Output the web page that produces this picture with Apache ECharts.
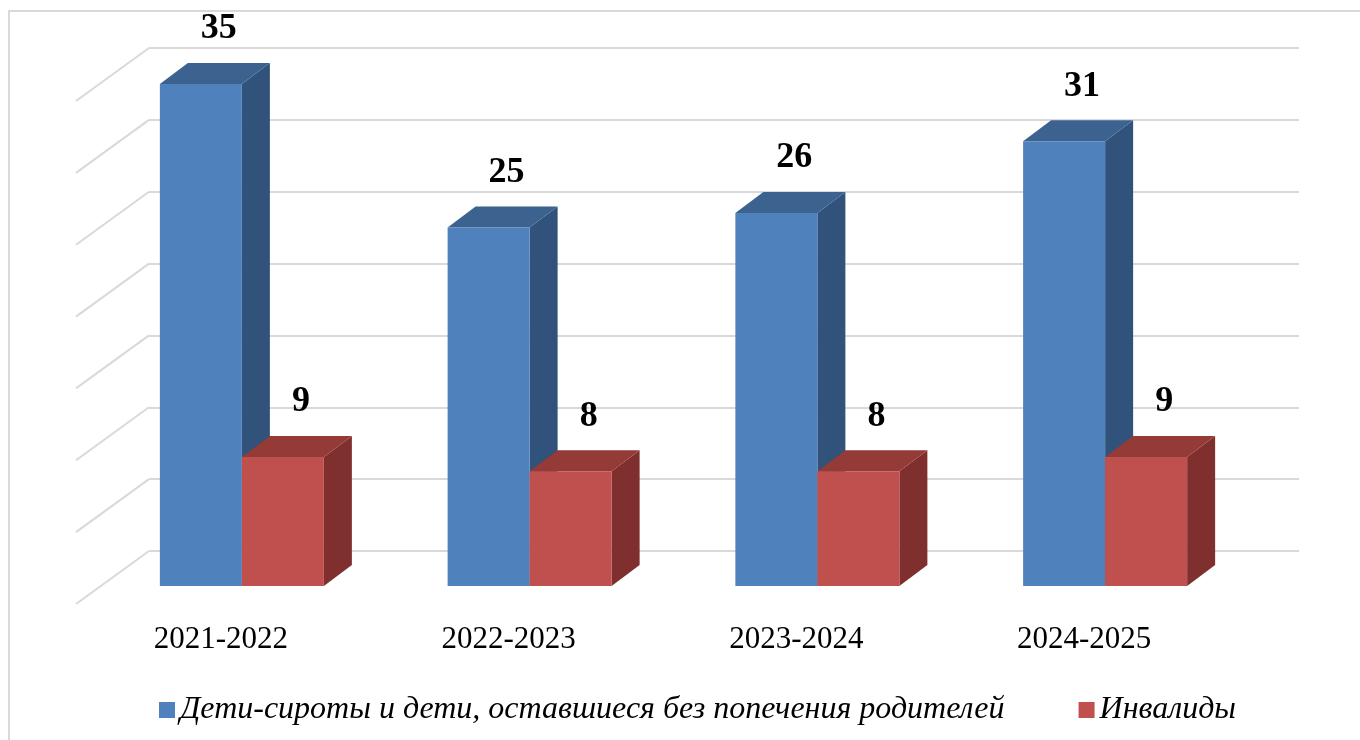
<!DOCTYPE html>
<html>
<head>
<meta charset="utf-8">
<script src="https://cdn.jsdelivr.net/npm/echarts@6/dist/echarts.min.js"></script>
<style>
    html, body { margin: 0; padding: 0; background: #fff; }
    #chart { width: 1360px; height: 740px; }
</style>
</head>
<body>
<div id="chart"></div>
<script>
var categories = ['2021-2022', '2022-2023', '2023-2024', '2024-2025'];
var orphans = [35, 25, 26, 31];
var disabled = [9, 8, 8, 9];
var gridTicks = [0, 5, 10, 15, 20, 25, 30, 35];

var seriesNames = ['Дети-сироты и дети, оставшиеся без попечения родителей', 'Инвалиды'];

var DX = 28, DY = 21; // bar depth

function barRenderer(side, front, topColor, sideColor) {
    return function(params, api) {
        var cat = api.value(0);
        var val = api.value(1);
        var base = api.coord([cat, 0]);
        var top = api.coord([cat, val]);
        var bw = api.size([1, 0])[0] * 0.285;
        var x0 = side === 0 ? base[0] - bw : base[0];
        var x1 = x0 + bw;
        var yt = top[1], yb = base[1];
        return {
            type: 'group',
            children: [
                {
                    type: 'polygon',
                    shape: { points: [[x1, yt], [x1 + DX, yt - DY], [x1 + DX, yb - DY], [x1, yb]] },
                    style: { fill: sideColor }
                },
                {
                    type: 'polygon',
                    shape: { points: [[x0, yt], [x0 + DX, yt - DY], [x1 + DX, yt - DY], [x1, yt]] },
                    style: { fill: topColor }
                },
                {
                    type: 'rect',
                    shape: { x: x0, y: yt, width: bw, height: yb - yt },
                    style: { fill: front }
                },
                {
                    type: 'text',
                    style: {
                        text: String(val),
                        x: x0 + bw / 2 + 18,
                        y: yt - 55,
                        align: 'center',
                        verticalAlign: 'middle',
                        fontFamily: 'Liberation Serif',
                        fontWeight: 'bold',
                        fontSize: 36,
                        fill: '#000'
                    }
                }
            ]
        };
    };
}

var chart = echarts.init(document.getElementById('chart'));

var option = {
    animation: false,
    backgroundColor: '#fff',
    graphic: [
        {
            type: 'polyline',
            shape: { points: [[9, 745], [9, 11], [1365, 11]] },
            style: { stroke: '#d9d9d9', lineWidth: 2, fill: null },
            silent: true
        }
    ],
    legend: {
        left: 154,
        top: 689,
        icon: 'rect',
        itemWidth: 16,
        itemHeight: 16,
        itemGap: 74,
        textStyle: {
            fontFamily: 'Liberation Serif',
            fontStyle: 'italic',
            fontSize: 32,
            color: '#000'
        },
        data: seriesNames
    },
    grid: [
        // front plane of the bars
        { left: 98, right: 111, top: 84, bottom: 154 },
        // back wall
        { left: 149, right: 61, top: 48, bottom: 189 }
    ],
    xAxis: [
        {
            gridIndex: 0,
            type: 'category',
            data: categories,
            axisLine: { show: false },
            axisTick: { show: false },
            axisLabel: {
                margin: 38,
                padding: [0, 42, 0, 0],
                fontFamily: 'Liberation Serif',
                fontSize: 31,
                color: '#000'
            }
        },
        {
            gridIndex: 1,
            type: 'value',
            min: 0,
            max: 1,
            show: false
        }
    ],
    yAxis: [
        {
            gridIndex: 0,
            type: 'value',
            min: 0,
            max: 35,
            show: false
        },
        {
            gridIndex: 1,
            type: 'value',
            min: 0,
            max: 35,
            interval: 5,
            axisLine: { show: false },
            axisTick: { show: false },
            axisLabel: { show: false },
            splitLine: {
                lineStyle: { color: '#d9d9d9', width: 2 }
            }
        }
    ],
    series: [
        {
            // side wall lines
            type: 'custom',
            xAxisIndex: 1,
            yAxisIndex: 1,
            silent: true,
            z: 1,
            data: gridTicks.map(function(v) { return [0, v]; }),
            renderItem: function(params, api) {
                var p = api.coord([0, api.value(1)]);
                return {
                    type: 'line',
                    shape: { x1: p[0], y1: p[1], x2: p[0] - 73, y2: p[1] + 53 },
                    style: { stroke: '#d9d9d9', lineWidth: 2 }
                };
            }
        },
        {
            name: seriesNames[0],
            type: 'custom',
            xAxisIndex: 0,
            yAxisIndex: 0,
            itemStyle: { color: '#4f81bd' },
            data: orphans.map(function(v, i) { return [i, v]; }),
            renderItem: barRenderer(0, '#4f81bd', '#3c6390', '#31527a')
        },
        {
            name: seriesNames[1],
            type: 'custom',
            xAxisIndex: 0,
            yAxisIndex: 0,
            itemStyle: { color: '#c0504d' },
            data: disabled.map(function(v, i) { return [i, v]; }),
            renderItem: barRenderer(1, '#c0504d', '#943a37', '#7f302e')
        }
    ]
};

chart.setOption(option);
</script>
</body>
</html>
